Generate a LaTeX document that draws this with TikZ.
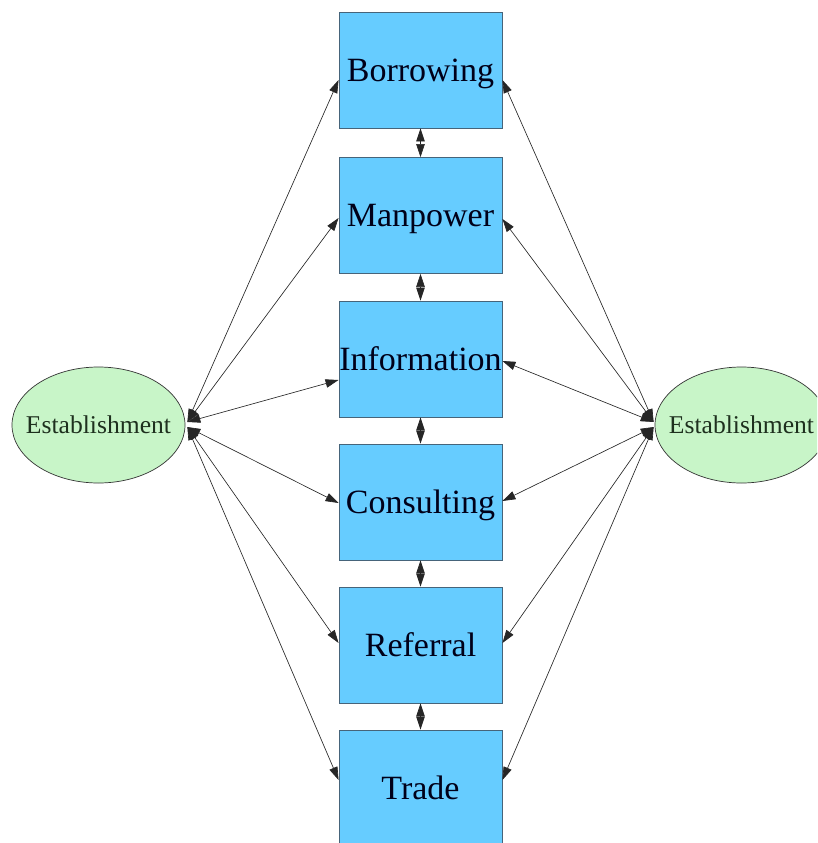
\documentclass[tikz,border=0pt]{standalone}
\usepackage{fontspec}
\setmainfont{Liberation Serif}
\usetikzlibrary{arrows.meta,calc,shapes.geometric}
\definecolor{boxfill}{HTML}{66CCFF}
\definecolor{boxline}{HTML}{46647A}
\definecolor{estfill}{HTML}{C8F5C8}
\definecolor{esttext}{HTML}{1E301E}
\begin{document}
\begin{tikzpicture}[x=1pt,y=-1pt,
  svc/.style={draw=boxline, line width=0.9pt, fill=boxfill, rectangle,
    minimum width=163pt, minimum height=116pt, inner sep=0pt,
    font=\fontsize{34}{40}\selectfont, text=black!90!blue,
    text height=22.5pt, text depth=0pt},
  est/.style={draw=black!80, line width=0.7pt, fill=estfill, ellipse,
    minimum width=173pt, minimum height=116pt,
    inner xsep=-11.5pt, inner ysep=0pt,
    font=\fontsize{25.6}{30}\selectfont, text=esttext},
  link/.style={line width=0.65pt, draw=black!85,
    {Triangle[length=13pt,width=8.5pt]}-{Triangle[length=13pt,width=8.5pt]}}]
\useasboundingbox (0,0) rectangle (817,843);
\clip (0,0) rectangle (817,843);

% service boxes
\node[svc] (b1) at (420.5,70)    {Borrowing};
\node[svc] (b2) at (420.5,215.5) {Manpower};
\node[svc] (b3) at (420.5,359)   {Information};
\node[svc] (b4) at (420.5,502)   {Consulting};
\node[svc] (b5) at (420.5,645)   {Referral};
\node[svc] (b6) at (420.5,788)   {Trade};

% the two establishments
\node[est] (L) at (98.5,425)  {Establishment};
\node[est] (R) at (741.5,425) {Establishment};

% meeting points on the ellipses
\coordinate (Lu) at ($(L.east)+(2,-3)$);
\coordinate (Ld) at ($(L.east)+(2,2)$);
\coordinate (Ru) at ($(R.west)+(-1,-3)$);
\coordinate (Rd) at ($(R.west)+(-1,2)$);

% vertical links between neighbouring boxes
\draw[link] (b1.south) -- (b2.north);
\draw[link] (b2.south) -- (b3.north);
\draw[link] (b3.south) -- (b4.north);
\draw[link] (b4.south) -- (b5.north);
\draw[link] (b5.south) -- (b6.north);

% left establishment to every box
\draw[link] (Lu) -- ($(b1.west)+(0,10)$);
\draw[link] (Lu) -- ($(b2.west)+(0,2.5)$);
\draw[link] (Lu) -- ($(b3.west)+(0,21)$);
\draw[link] (Ld) -- ($(b4.west)+(0,1)$);
\draw[link] (Ld) -- ($(b5.west)+(0,-2)$);
\draw[link] (Ld) -- ($(b6.west)+(0,-8)$);

% right establishment to every box
\draw[link] (Ru) -- ($(b1.east)+(0,10)$);
\draw[link] (Ru) -- ($(b2.east)+(0,3.5)$);
\draw[link] (Ru) -- ($(b3.east)+(0,2)$);
\draw[link] (Rd) -- ($(b4.east)+(0,-1)$);
\draw[link] (Rd) -- ($(b5.east)+(0,-2)$);
\draw[link] (Rd) -- ($(b6.east)+(0,-8)$);
\end{tikzpicture}
\end{document}
